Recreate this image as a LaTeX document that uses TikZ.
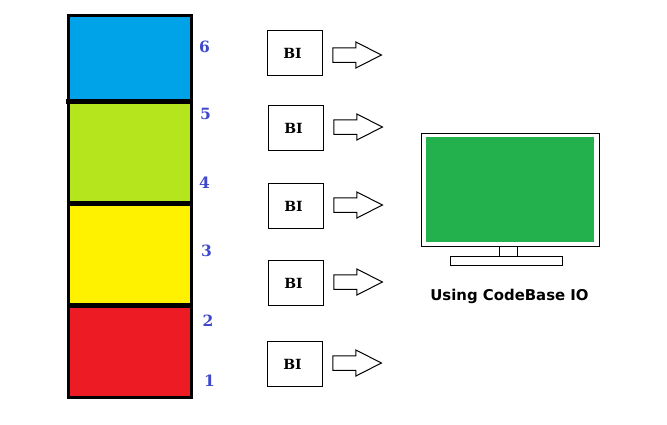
\documentclass[tikz,border=0pt]{standalone}
\usepackage{fontspec}
\usepackage{xcolor}
\usetikzlibrary{shapes.arrows}
\setmainfont{DejaVu Serif}
\newfontfamily\captionfont{DejaVu Sans}
\definecolor{levelblue}{HTML}{00A2E8}
\definecolor{levellime}{HTML}{B5E61D}
\definecolor{levelyellow}{HTML}{FFF200}
\definecolor{levelred}{HTML}{ED1C24}
\definecolor{levelnum}{HTML}{3F48CC}
\definecolor{screengreen}{HTML}{22B14C}

\begin{document}
\begin{tikzpicture}[x=1pt,y=-1pt]
\tikzset{level/.style={draw=black,line width=3pt,minimum width=123pt,inner sep=0pt,outer sep=0pt}}
\tikzset{num/.style={text=levelnum,font=\fontsize{15.5}{15.5}\selectfont\bfseries,inner sep=0pt}}
\tikzset{bibox/.style={draw=black,line width=1pt,minimum width=55pt,minimum height=45pt,inner sep=0pt,font=\fontsize{14}{14}\selectfont\bfseries,text depth=0pt,execute at end node=\hspace*{5pt}}}
\tikzset{biarrow/.style={draw=black,line width=1pt,single arrow,shape border rotate=0,anchor=tip,minimum height=48.5pt,minimum width=25pt,inner sep=6.75pt,single arrow head extend=5.75pt,single arrow tip angle=54}}
\tikzset{monitor/.style={draw=black,line width=1pt,inner sep=0pt}}

\path[use as bounding box] (0,0) rectangle (667,424);

% the stack
\node[level,fill=levelblue,minimum height=85.5pt] (blue) at (130,58.25) {};
\node[level,fill=levellime,minimum height=102.5pt] (lime) at (130,152.25) {};
\node[level,fill=levelyellow,minimum height=101.5pt] (yellow) at (130,254.25) {};
\node[level,fill=levelred,minimum height=92pt] (red) at (130,351) {};
\coordinate (tick) at (66,101);
\draw[line width=5pt] (tick) -- (blue.south east);
\draw[line width=5pt] (lime.south west) -- (lime.south east);
\draw[line width=5pt] (yellow.south west) -- (yellow.south east);

\node[num] (n6) at (204.5,47) {6};
\node[num] (n5) at (205.5,114) {5};
\node[num] (n4) at (204.5,183) {4};
\node[num] (n3) at (206.5,251) {3};
\node[num] (n2) at (208,321) {2};
\node[num] (n1) at (209.5,381) {1};

% BI boxes
\node[bibox] (bi5) at (295,53) {BI};
\node[bibox] (bi4) at (296,128) {BI};
\node[bibox] (bi3) at (296,206) {BI};
\node[bibox] (bi2) at (296,283) {BI};
\node[bibox] (bi1) at (295,364) {BI};

\node[biarrow] (ar5) at (382.5,55) {};
\node[biarrow] (ar4) at (383.5,127) {};
\node[biarrow] (ar3) at (383.5,205) {};
\node[biarrow] (ar2) at (383.5,282) {};
\node[biarrow] (ar1) at (382.5,363) {};

% monitor
\node[monitor,minimum width=178pt,minimum height=113pt] (frame) at (510.5,190) {};
\node[fill=screengreen,minimum width=168pt,minimum height=105pt,inner sep=0pt] (screen) at (510,189.5) {};
\node[monitor,minimum width=18pt,minimum height=10pt] (neck) at (508.5,251.5) {};
\node[monitor,minimum width=112pt,minimum height=9pt] (base) at (506.5,261) {};
\node[inner sep=0pt,font=\captionfont\fontsize{14.9}{14.9}\selectfont\bfseries] (caption) at (509.5,296) {Using CodeBase IO};

\end{tikzpicture}
\end{document}
